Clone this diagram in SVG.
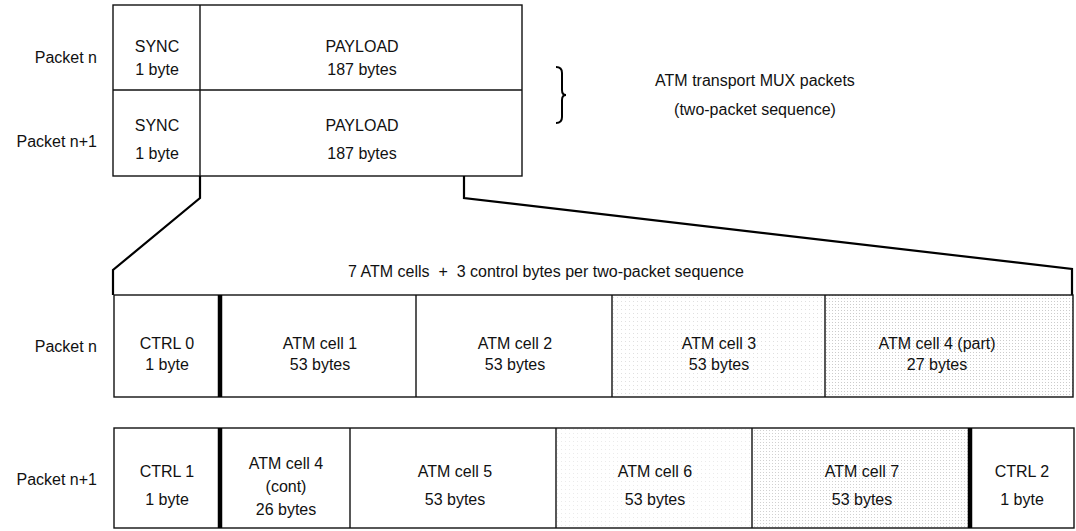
<svg xmlns="http://www.w3.org/2000/svg" width="1076" height="531" viewBox="0 0 1076 531">
<style>
text{font-family:"Liberation Sans",Arial,sans-serif;font-size:16px;fill:#111;text-anchor:middle}
.lbl{text-anchor:end}
.box{fill:none;stroke:#111;stroke-width:1.4}
.div{stroke:#111;stroke-width:1.4}
.thick{stroke:#000;stroke-width:4.5}
.conn{fill:none;stroke:#000;stroke-width:2.2;stroke-linejoin:miter}
</style>
<defs>
<pattern id="dots" width="4" height="4" patternUnits="userSpaceOnUse">
<rect x="1" y="1" width="1" height="1" fill="#999"/>
</pattern>
<pattern id="dots2" width="3" height="3" patternUnits="userSpaceOnUse">
<rect x="1" y="1" width="1" height="1" fill="#999"/>
</pattern>
</defs>
<rect width="1076" height="531" fill="#fff"/>

<g id="top-packets">
<rect class="box" x="113" y="5" width="409" height="171"/>
<line class="div" x1="113" y1="90" x2="522" y2="90"/>
<line class="div" x1="200" y1="5" x2="200" y2="176"/>
<text class="lbl" x="97" y="63">Packet n</text>
<text x="157" y="52">SYNC</text>
<text x="157" y="75">1 byte</text>
<text x="362" y="52">PAYLOAD</text>
<text x="362" y="75">187 bytes</text>
<text class="lbl" x="97" y="147">Packet n+1</text>
<text x="157" y="131">SYNC</text>
<text x="157" y="159">1 byte</text>
<text x="362" y="131">PAYLOAD</text>
<text x="362" y="159">187 bytes</text>
</g>

<g id="brace">
<path d="M556,67 Q562,67 562,73 L562,90 Q562,95 566,95 Q562,95 562,100 L562,117 Q562,123 556,123" fill="none" stroke="#000" stroke-width="2"/>
<text x="755" y="86">ATM transport MUX packets</text>
<text x="755" y="115">(two-packet sequence)</text>
</g>

<g id="connectors">
<polyline class="conn" points="200,176 200,198 113,270 113,295"/>
<polyline class="conn" points="464,176 464,198 1072,269 1072,295"/>
</g>

<text x="546" y="277">7 ATM cells &#160;+ &#160;3 control bytes per two-packet sequence</text>

<g id="row-n">
<rect x="612" y="295" width="213" height="102" fill="url(#dots)" opacity="0.3"/>
<rect x="825" y="295" width="248" height="102" fill="url(#dots2)" opacity="0.5"/>
<rect class="box" x="114" y="295" width="959" height="102"/>
<line class="thick" x1="220" y1="295" x2="220" y2="397"/>
<line class="div" x1="416" y1="295" x2="416" y2="397"/>
<line class="div" x1="612" y1="295" x2="612" y2="397"/>
<line class="div" x1="825" y1="295" x2="825" y2="397"/>
<text class="lbl" x="97" y="352">Packet n</text>
<text x="167" y="349">CTRL 0</text>
<text x="167" y="370">1 byte</text>
<text x="320" y="349">ATM cell 1</text>
<text x="320" y="370">53 bytes</text>
<text x="515" y="349">ATM cell 2</text>
<text x="515" y="370">53 bytes</text>
<text x="719" y="349">ATM cell 3</text>
<text x="719" y="370">53 bytes</text>
<text x="937" y="349">ATM cell 4 (part)</text>
<text x="937" y="370">27 bytes</text>
</g>

<g id="row-n1">
<rect x="556" y="428" width="196" height="100" fill="url(#dots)" opacity="0.2"/>
<rect x="752" y="428" width="218" height="100" fill="url(#dots2)" opacity="0.45"/>
<rect class="box" x="114" y="428" width="960" height="100"/>
<line class="thick" x1="220" y1="428" x2="220" y2="528"/>
<line class="div" x1="350" y1="428" x2="350" y2="528"/>
<line class="div" x1="556" y1="428" x2="556" y2="528"/>
<line class="div" x1="752" y1="428" x2="752" y2="528"/>
<line class="thick" x1="970" y1="428" x2="970" y2="528"/>
<text class="lbl" x="97" y="485">Packet n+1</text>
<text x="167" y="477">CTRL 1</text>
<text x="167" y="505">1 byte</text>
<text x="286" y="469">ATM cell 4</text>
<text x="286" y="492">(cont)</text>
<text x="286" y="515">26 bytes</text>
<text x="455" y="477">ATM cell 5</text>
<text x="455" y="505">53 bytes</text>
<text x="655" y="477">ATM cell 6</text>
<text x="655" y="505">53 bytes</text>
<text x="862" y="477">ATM cell 7</text>
<text x="862" y="505">53 bytes</text>
<text x="1022" y="477">CTRL 2</text>
<text x="1022" y="505">1 byte</text>
</g>
</svg>
